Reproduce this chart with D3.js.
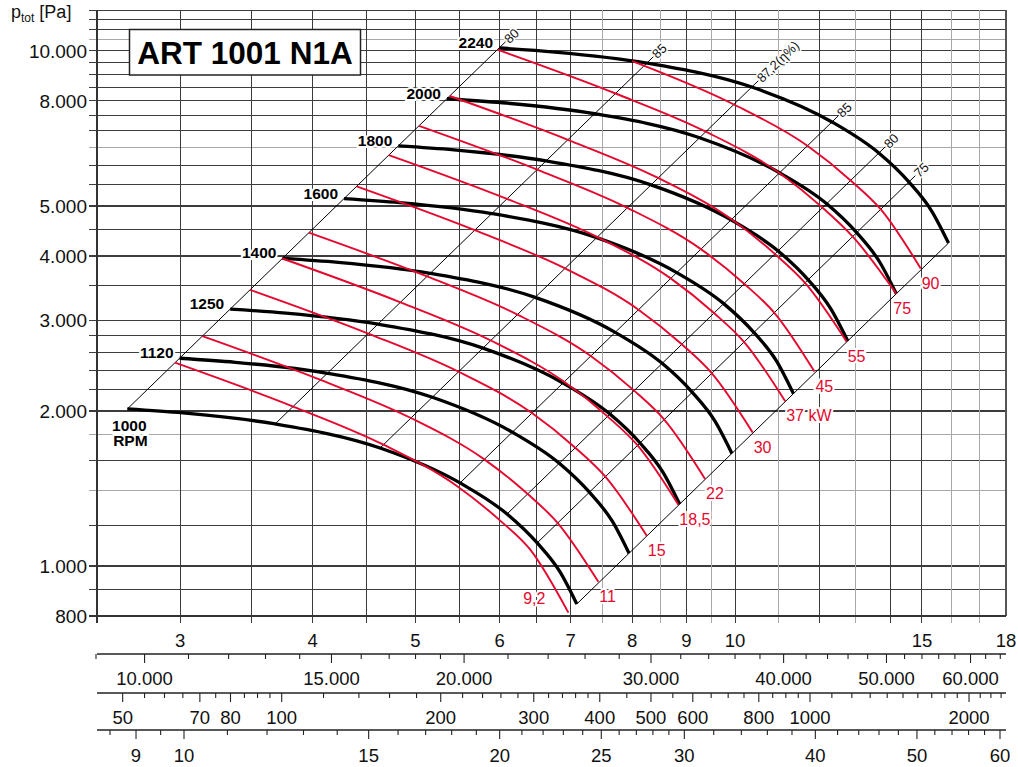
<!DOCTYPE html>
<html>
<head>
<meta charset="utf-8">
<script src="https://cdn.jsdelivr.net/npm/d3@7"></script>
<style>
body { margin: 0; background: #fff; }
text { font-family: "Liberation Sans", Arial, sans-serif; }
</style>
</head>
<body>
<svg id="chart" width="1018" height="767"></svg>
<script>
// fan speed curves (flow m3/s, total pressure Pa)
const rpmLabels = ["1000", "1120", "1250", "1400", "1600", "1800", "2000", "2240"];
const rpmFlow = [
  [2.676, 3.020, 3.687, 4.630, 5.507, 6.098, 6.510, 6.841, 7.094],
  [2.997, 3.382, 4.129, 5.186, 6.168, 6.830, 7.291, 7.662, 7.945],
  [3.345, 3.775, 4.609, 5.788, 6.884, 7.623, 8.138, 8.551, 8.868],
  [3.746, 4.228, 5.162, 6.482, 7.710, 8.537, 9.114, 9.577, 9.932],
  [4.282, 4.832, 5.899, 7.408, 8.811, 9.757, 10.42, 10.95, 11.35],
  [4.817, 5.436, 6.637, 8.334, 9.913, 10.98, 11.72, 12.31, 12.77],
  [5.352, 6.040, 7.374, 9.260, 11.01, 12.20, 13.02, 13.68, 14.19],
  [5.994, 6.765, 8.259, 10.37, 12.34, 13.66, 14.58, 15.32, 15.89]
];
const rpmPressure = [
  [2018, 1982, 1887, 1695, 1450, 1262, 1109, 974, 844],
  [2531, 2486, 2367, 2126, 1819, 1583, 1391, 1222, 1059],
  [3153, 3097, 2948, 2648, 2266, 1972, 1733, 1522, 1319],
  [3955, 3885, 3699, 3322, 2842, 2474, 2174, 1909, 1654],
  [5166, 5074, 4831, 4339, 3712, 3231, 2839, 2493, 2161],
  [6538, 6422, 6114, 5492, 4698, 4089, 3593, 3156, 2735],
  [8072, 7928, 7548, 6780, 5800, 5048, 4436, 3896, 3376],
  [10126, 9945, 9468, 8505, 7276, 6332, 5565, 4887, 4235]
];

// motor power lines (kW)
const kwLabels = ["9,2", "11", "15", "18,5", "22", "30", "37 kW", "45", "55", "75", "90"];
const kwFlow = [
  [2.967, 3.834, 4.664, 5.469, 6.008, 6.413, 6.966],
  [3.149, 4.069, 4.950, 5.805, 6.377, 6.807, 7.434],
  [3.492, 4.513, 5.490, 6.437, 7.071, 7.548, 8.257],
  [3.745, 4.839, 5.887, 6.903, 7.583, 8.095, 8.843],
  [3.967, 5.127, 6.237, 7.313, 8.034, 8.576, 9.370],
  [4.400, 5.685, 6.916, 8.110, 8.909, 9.510, 10.39],
  [4.718, 6.097, 7.417, 8.697, 9.554, 10.20, 11.15],
  [5.037, 6.509, 7.918, 9.285, 10.20, 10.89, 11.88],
  [5.385, 6.958, 8.464, 9.925, 10.90, 11.64, 12.74],
  [5.971, 7.716, 9.387, 11.01, 12.09, 12.91, 14.19],
  [8.000, 9.975, 11.70, 12.85, 13.72, 14.96]
];
const kwPressure = [
  [2481, 2040, 1720, 1430, 1225, 1076, 812],
  [2795, 2298, 1938, 1611, 1380, 1212, 932],
  [3437, 2826, 2383, 1981, 1697, 1491, 1145],
  [3953, 3250, 2740, 2278, 1952, 1714, 1315],
  [4436, 3648, 3076, 2557, 2190, 1924, 1476],
  [5456, 4486, 3782, 3145, 2694, 2366, 1816],
  [6275, 5159, 4350, 3617, 3098, 2721, 2088],
  [7151, 5880, 4957, 4122, 3531, 3101, 2385],
  [8171, 6719, 5665, 4710, 4035, 3544, 2726],
  [10050, 8263, 6967, 5792, 4962, 4358, 3376],
  [9550, 7867, 6541, 5603, 4922, 3780]
];

// efficiency lines, from the 1000 rpm curve to the 2240 rpm curve
const effLabels = ["80", "85", "87,2(\u03b7%)", "85", "80", "75", ""];
const effFlow = [[2.676, 5.994], [3.687, 8.259], [4.630, 10.37], [5.507, 12.34], [6.098, 13.66], [6.510, 14.58], [7.094, 15.89]];
const effPressure = [[2018, 10126], [1887, 9468], [1695, 8505], [1450, 7276], [1262, 6332], [1109, 5565], [844, 4235]];

// grid and axis ticks
const qGrid = [3, 3.5, 4, 4.5, 5, 5.5, 6, 6.5, 7, 7.5, 8, 8.5, 9, 9.5, 10, 11, 12, 13, 14, 15, 16, 17];
const qGridLight = [7.5, 8.5, 9.5, 11, 13, 16, 17];
const qLabels = [3, 4, 5, 6, 7, 8, 9, 10, 15, 18];
const pGrid = [800, 900, 1000, 1200, 1400, 1600, 1800, 2000, 2200, 2400, 2600, 2800, 3000, 3500, 4000, 4500,
  5000, 5500, 6000, 6500, 7000, 7500, 8000, 8500, 9000, 9500, 10000, 10500, 11000, 11500, 12000];
const pGridLight = [1400, 1800, 6500, 10500];
const pLabels = [800, 1000, 2000, 3000, 4000, 5000, 8000, 10000];
const m3hLabels = [10000, 15000, 20000, 30000, 40000, 50000, 60000];
const m3hTicks = d3.range(9000, 20000, 1000).concat(d3.range(20000, 64001, 2000));
const pdLabels = [50, 70, 80, 100, 200, 300, 400, 500, 600, 800, 1000, 2000];
const pdTicks = d3.range(50, 100, 5).concat(d3.range(100, 400, 20), d3.range(400, 1000, 50), d3.range(1000, 2301, 100));
const velLabels = [9, 10, 15, 20, 25, 30, 40, 50, 60];
const velTicks = [8.5, 9, 9.5].concat(d3.range(10, 30, 1), d3.range(30, 61, 2));

const plotL = 96, plotR = 1006, plotT = 10, plotB = 616;
const red = "#e5072e";

const svg = d3.select("#chart");
const de = d3.formatLocale({ decimal: ",", thousands: ".", grouping: [3], currency: ["", ""] });
const fmt = de.format(",");

const x = d3.scaleLog().domain([2.5, 18]).range([plotL, plotR]);
const y = d3.scaleLog().domain([800, 12000]).range([plotB, plotT]);
const xh = d3.scaleLog().domain([2.5 * 3600, 18 * 3600]).range([plotL, plotR]);
const xpd = d3.scaleLog().domain([100, 1000]).range([281.7, 810]);
const xv = d3.scaleLog().domain([10, 60]).range([184, 1000]);

// grid
const grid = svg.append("g").attr("shape-rendering", "crispEdges");
grid.selectAll("line.h")
  .data(pGrid)
  .join("line")
  .attr("x1", plotL - 7).attr("x2", plotR)
  .attr("y1", d => y(d)).attr("y2", d => y(d))
  .attr("stroke", d => pGridLight.includes(d) ? "#a8a8a8" : "#3c3c3c")
  .attr("stroke-width", d => pLabels.includes(d) ? 1.4 : 1);
grid.selectAll("line.v")
  .data(qGrid)
  .join("line")
  .attr("x1", d => x(d)).attr("x2", d => x(d))
  .attr("y1", plotT).attr("y2", plotB + 7)
  .attr("stroke", d => qGridLight.includes(d) ? "#a8a8a8" : "#3c3c3c")
  .attr("stroke-width", 1);
grid.append("line").attr("x1", plotL + 1).attr("x2", plotL + 1).attr("y1", plotT).attr("y2", plotB + 7)
  .attr("stroke", "#333").attr("stroke-width", 2);
grid.append("line").attr("x1", plotR).attr("x2", plotR).attr("y1", plotT).attr("y2", plotB)
  .attr("stroke", "#555").attr("stroke-width", 1.2);
grid.append("line").attr("x1", plotL - 7).attr("x2", plotR).attr("y1", plotB).attr("y2", plotB)
  .attr("stroke", "#333").attr("stroke-width", 2);

// y labels
svg.append("g").selectAll("text")
  .data(pLabels)
  .join("text")
  .attr("x", 87).attr("y", d => y(d) + 7)
  .attr("text-anchor", "end")
  .attr("font-size", 19)
  .attr("fill", "#111")
  .text(d => fmt(d));

const yt = svg.append("text").attr("x", 11).attr("y", 18).attr("font-size", 18).attr("fill", "#111");
yt.append("tspan").text("p");
yt.append("tspan").attr("font-size", 12).attr("dy", 4).text("tot");
yt.append("tspan").attr("dy", -4).text(" [Pa]");

// title box
svg.append("rect").attr("x", 129.5).attr("y", 29.5).attr("width", 231).attr("height", 45.5)
  .attr("fill", "#fff").attr("stroke", "#222").attr("stroke-width", 1.5);
svg.append("text").attr("x", 245).attr("y", 64).attr("text-anchor", "middle")
  .attr("font-size", 31.5).attr("font-weight", "bold").attr("fill", "#000")
  .text("ART 1001 N1A");

// bottom scales
const axes = svg.append("g");
axes.selectAll("text.q")
  .data(qLabels)
  .join("text")
  .attr("x", d => x(d)).attr("y", 647)
  .attr("text-anchor", "middle").attr("font-size", 18.5).attr("fill", "#111")
  .text(d => d);

function bottomScale(yLine, scale, ticks, labels, labelY, format) {
  const g = axes.append("g");
  g.append("line").attr("x1", plotL + 1).attr("x2", plotR).attr("y1", yLine).attr("y2", yLine)
    .attr("stroke", "#222").attr("stroke-width", 1.6);
  g.selectAll("line.t")
    .data(ticks.filter(d => scale(d) >= plotL && scale(d) <= plotR + 1))
    .join("line")
    .attr("x1", d => scale(d)).attr("x2", d => scale(d))
    .attr("y1", yLine).attr("y2", d => yLine + (labels.includes(d) ? 9 : 5))
    .attr("stroke", "#222").attr("stroke-width", 1.1);
  g.selectAll("text")
    .data(labels)
    .join("text")
    .attr("x", d => scale(d)).attr("y", labelY)
    .attr("text-anchor", "middle").attr("font-size", 18.5).attr("fill", "#111")
    .text(format);
}
bottomScale(654, xh, m3hTicks, m3hLabels, 685, d => fmt(d));
bottomScale(693, xpd, pdTicks, pdLabels, 724, d => String(d));
bottomScale(730, xv, velTicks, velLabels, 762, d => String(d));

const line = d3.line()
  .x(d => x(d[0]))
  .y(d => y(d[1]))
  .curve(d3.curveMonotoneX);

// efficiency lines
const eff = svg.append("g");
effFlow.forEach((qs, i) => {
  const x0 = x(qs[0]), y0 = y(effPressure[i][0]);
  const x1 = x(qs[1]), y1 = y(effPressure[i][1]);
  const len = Math.hypot(x1 - x0, y1 - y0);
  const ux = (x1 - x0) / len, uy = (y1 - y0) / len;
  const ext = effLabels[i] ? 9 : 0;
  eff.append("line")
    .attr("x1", x0).attr("y1", y0)
    .attr("x2", x1 + ux * ext).attr("y2", y1 + uy * ext)
    .attr("stroke", "#000").attr("stroke-width", 1);
  if (effLabels[i]) {
    const ang = Math.atan2(uy, ux) * 180 / Math.PI;
    eff.append("text")
      .attr("transform", `translate(${x1 + ux * 10},${y1 + uy * 10}) rotate(${ang})`)
      .attr("dy", "0.35em")
      .attr("font-size", 13)
      .attr("fill", "#111")
      .attr("stroke", "#fff").attr("stroke-width", 3).attr("paint-order", "stroke")
      .text(effLabels[i]);
  }
});

// speed curves
const rpmG = svg.append("g");
rpmFlow.forEach((qs, i) => {
  const pts = qs.map((q, j) => [q, rpmPressure[i][j]]);
  rpmG.append("path")
    .attr("d", line(pts))
    .attr("fill", "none")
    .attr("stroke", "#000")
    .attr("stroke-width", 3.3);
});

// power curves
const kwG = svg.append("g");
kwFlow.forEach((qs, i) => {
  const pts = qs.map((q, j) => [q, kwPressure[i][j]]);
  kwG.append("path")
    .attr("d", line(pts))
    .attr("fill", "none")
    .attr("stroke", red)
    .attr("stroke-width", 1.9);
});

// speed labels
const lab = svg.append("g")
  .attr("font-weight", "bold").attr("font-size", 15.5).attr("fill", "#000")
  .attr("stroke", "#fff").attr("stroke-width", 4).attr("paint-order", "stroke");
rpmLabels.forEach((t, i) => {
  const sx = x(rpmFlow[i][0]), sy = y(rpmPressure[i][0]);
  if (i === 0) {
    lab.append("text").attr("x", sx + 2).attr("y", sy + 22).attr("text-anchor", "middle").text(t);
    lab.append("text").attr("x", sx + 3).attr("y", sy + 37).attr("text-anchor", "middle").text("RPM");
  } else {
    lab.append("text").attr("x", sx - 6).attr("y", sy).attr("text-anchor", "end").text(t);
  }
});

// power labels
const kwLab = svg.append("g")
  .attr("font-size", 16).attr("fill", red)
  .attr("stroke", "#fff").attr("stroke-width", 4).attr("paint-order", "stroke");
kwLabels.forEach((t, i) => {
  const n = kwFlow[i].length - 1;
  const ex = x(kwFlow[i][n]), ey = y(kwPressure[i][n]);
  if (i === 0) {
    kwLab.append("text").attr("x", ex - 23).attr("y", ey - 9).attr("text-anchor", "end").text(t);
  } else {
    kwLab.append("text").attr("x", ex + (i === 9 ? -3 : 1)).attr("y", ey + 20).text(t);
  }
});
</script>
</body>
</html>
